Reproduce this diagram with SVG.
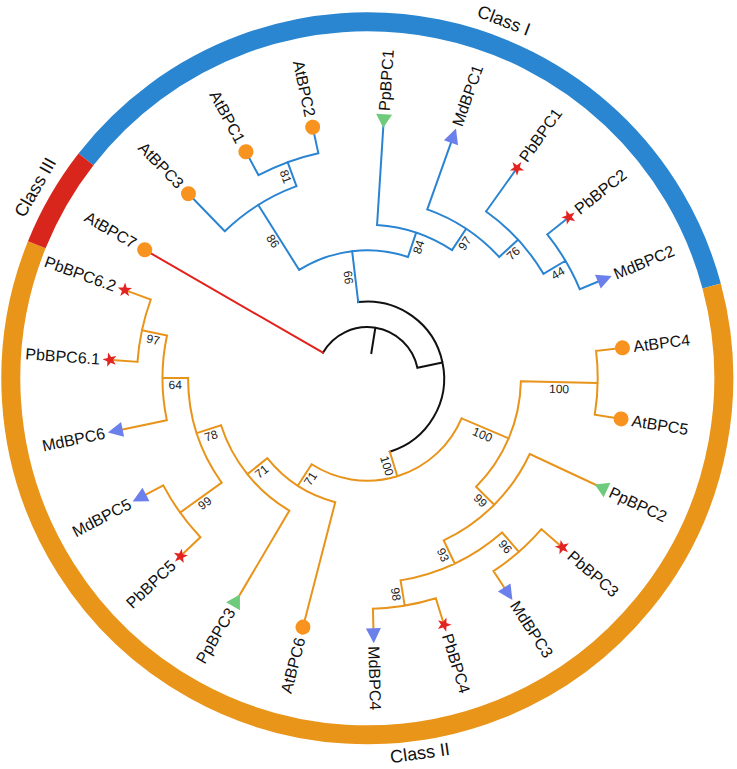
<svg xmlns="http://www.w3.org/2000/svg" width="737" height="769" viewBox="0 0 737 769">
<style>
.br{fill:none;stroke-width:2;stroke-linecap:square;stroke-linejoin:miter}
.k{stroke:#111}
.bl{stroke:#2a84d2}
.or{stroke:#e8941a}
.rd{stroke:#e3201b}
.ring{fill:none;stroke-width:19}
.lab{font-family:"Liberation Sans",Arial,sans-serif;font-size:16px;fill:#111;dominant-baseline:central}
.r{text-anchor:start}
.l{text-anchor:end}
.bs{font-family:"Liberation Sans",Arial,sans-serif;font-size:12px;fill:#222;text-anchor:middle;dominant-baseline:central}
.cls{font-family:"Liberation Sans",Arial,sans-serif;font-size:18px;fill:#111;text-anchor:middle;dominant-baseline:central}
</style>
<defs>
<circle id="at" r="7.5" fill="#f7931e"/>
<polygon id="pb" fill="#e3231f" points="0,-7.5 1.763,-2.427 7.133,-2.318 2.853,0.927 4.408,6.068 0,3 -4.408,6.068 -2.853,0.927 -7.133,-2.318 -1.763,-2.427"/>
<polygon id="md" fill="#6b80ea" points="0,-8 7.5,7 -7.5,7"/>
<polygon id="pp" fill="#6fcb7c" points="0,7 8,-6.5 -8,-6.5"/>
</defs>
<rect width="737" height="769" fill="#fff"/>
<g transform="translate(367.3,378.3)">
<g id="ring">
<path class="ring" stroke="#2a86d0" d="M-281.31,-219.00 A356.5,356.5 0 0 1 344.35,-92.27"/>
<path class="ring" stroke="#e8951a" d="M344.35,-92.27 A356.5,356.5 0 1 1 -330.54,-133.55"/>
<path class="ring" stroke="#d9261c" d="M-330.54,-133.55 A356.5,356.5 0 0 1 -281.31,-219.00"/>
</g>
<g id="class-labels">
<text class="cls" transform="rotate(20.9) translate(0,-383)">Class I</text>
<text class="cls" transform="rotate(172) translate(0,-378.5) rotate(180)">Class II</text>
<text class="cls" transform="rotate(-60.1) translate(0,-383)">Class III</text>
</g>
<g id="connectors">
<path class="br k" d="M4.03,-25.28 L8.05,-50.56 M-44.34,-25.6 A51.2,51.2 0 0 1 50.10,-10.56 M50.10,-10.56 L75.15,-15.84 M-9.09,-76.26 A76.8,76.8 0 0 1 22.52,73.43"/>
<path class="br rd" d="M-44.34,-25.6 L-221.70,-128.0"/>
<path class="br bl" d="M-9.09,-76.26 L-15.16,-127.10 M-68.13,-108.36 A128,128 0 0 1 40.72,-121.35
M-68.13,-108.36 L-109.01,-173.38 M-142.50,-147.10 A204.8,204.8 0 0 1 -70.82,-192.17 M-142.50,-147.10 L-178.12,-183.87
M-70.82,-192.17 L-79.67,-216.19 M-108.80,-203.09 A230.4,230.4 0 0 1 -48.96,-225.14 M-108.80,-203.09 L-120.89,-225.66 M-48.96,-225.14 L-54.41,-250.16
M40.72,-121.35 L48.86,-145.62 M9.75,-153.29 A153.6,153.6 0 0 1 84.71,-128.13 M9.75,-153.29 L16.25,-255.48
M84.71,-128.13 L98.83,-149.48 M59.97,-168.87 A179.2,179.2 0 0 1 131.89,-121.32 M59.97,-168.87 L85.67,-241.24
M131.89,-121.32 L150.73,-138.65 M118.78,-166.84 A204.8,204.8 0 0 1 176.14,-104.50 M118.78,-166.84 L148.48,-208.55
M176.14,-104.50 L198.15,-117.56 M179.96,-143.87 A230.4,230.4 0 0 1 212.51,-89.02 M179.96,-143.87 L199.96,-159.85 M212.51,-89.02 L236.12,-98.92"/>
<path class="br or" d="M22.52,73.43 L30.02,97.90 M94.26,40.01 A102.4,102.4 0 0 1 -55.62,85.98
M94.26,40.01 L141.39,60.02 M153.57,3.06 A153.6,153.6 0 0 1 108.80,108.42
M153.57,3.06 L230.35,4.58 M228.77,-27.36 A230.4,230.4 0 0 1 227.50,36.40 M228.77,-27.36 L254.19,-30.40 M227.50,36.40 L252.78,40.45
M108.80,108.42 L126.93,126.49 M162.41,75.73 A179.2,179.2 0 0 1 76.44,162.08 M162.41,75.73 L232.02,108.19
M76.44,162.08 L87.36,185.24 M134.77,154.21 A204.8,204.8 0 0 1 33.27,202.08
M134.77,154.21 L151.61,173.49 M174.15,150.85 A230.4,230.4 0 0 1 126.16,192.79 M174.15,150.85 L193.50,167.61 M126.16,192.79 L140.18,214.21
M33.27,202.08 L37.43,227.34 M68.51,219.98 A230.4,230.4 0 0 1 5.63,230.33 M68.51,219.98 L76.13,244.42 M5.63,230.33 L6.25,255.92
M-55.62,85.98 L-69.53,107.47 M-32.05,123.92 A128,128 0 0 1 -99.97,79.94 M-32.05,123.92 L-64.10,247.85
M-99.97,79.94 L-119.96,95.93 M-77.96,132.35 A153.6,153.6 0 0 1 -146.25,46.96 M-77.96,132.35 L-129.93,220.58
M-146.25,46.96 L-170.62,54.78 M-145.62,104.44 A179.2,179.2 0 0 1 -179.20,-0.31
M-145.62,104.44 L-187.22,134.28 M-166.85,158.89 A230.4,230.4 0 0 1 -203.99,107.10 M-166.85,158.89 L-185.39,176.54 M-203.99,107.10 L-226.66,119.00
M-179.20,-0.31 L-204.80,-0.36 M-200.47,41.88 A204.8,204.8 0 0 1 -200.29,-42.76 M-200.47,41.88 L-250.59,52.35
M-200.29,-42.76 L-225.32,-48.10 M-229.81,-16.47 A230.4,230.4 0 0 1 -216.50,-78.80 M-229.81,-16.47 L-255.34,-18.30 M-216.50,-78.80 L-240.56,-87.56"/>
</g>
<g id="bootstrap">
<text class="bs" transform="rotate(-6.8) translate(0,-102.4) rotate(90)" y="7">66</text>
<text class="bs" transform="rotate(-32.16) translate(0,-166.4) rotate(90)" y="7">86</text>
<text class="bs" transform="rotate(-20.23) translate(0,-217.6) rotate(90)" y="7">81</text>
<text class="bs" transform="rotate(18.55) translate(0,-140.8) rotate(-90)" y="7">84</text>
<text class="bs" transform="rotate(33.47) translate(0,-166.4) rotate(-90)" y="7">97</text>
<text class="bs" transform="rotate(47.39) translate(0,-192) rotate(-90)" y="7">76</text>
<text class="bs" transform="rotate(59.32) translate(0,-217.6) rotate(-90)" y="7">44</text>
<text class="bs" transform="rotate(162.95) translate(0,-89.6) rotate(-90)" y="7">100</text>
<text class="bs" transform="rotate(113) translate(0,-128) rotate(-90)" y="7">100</text>
<text class="bs" transform="rotate(91.14) translate(0,-192) rotate(-90)" y="7">100</text>
<text class="bs" transform="rotate(134.9) translate(0,-166.4) rotate(-90)" y="7">99</text>
<text class="bs" transform="rotate(154.75) translate(0,-192) rotate(-90)" y="7">93</text>
<text class="bs" transform="rotate(138.85) translate(0,-217.6) rotate(-90)" y="7">96</text>
<text class="bs" transform="rotate(170.65) translate(0,-217.6) rotate(-90)" y="7">98</text>
<text class="bs" transform="rotate(212.9) translate(0,-115.2) rotate(90)" y="7">71</text>
<text class="bs" transform="rotate(231.35) translate(0,-140.8) rotate(90)" y="7">71</text>
<text class="bs" transform="rotate(252.2) translate(0,-166.4) rotate(90)" y="7">78</text>
<text class="bs" transform="rotate(234.35) translate(0,-204.8) rotate(90)" y="7">99</text>
<text class="bs" transform="rotate(270.1) translate(0,-192) rotate(90)" y="7">64</text>
<text class="bs" transform="rotate(282.05) translate(0,-217.6) rotate(90)" y="7">97</text>
</g>
<g id="AtBPC7" transform="rotate(-60)"><use href="#at" y="-257"/><text class="lab l" transform="translate(0,-268) rotate(90)">AtBPC7</text></g>
<g id="AtBPC3" transform="rotate(-44.09)"><use href="#at" y="-257"/><text class="lab l" transform="translate(0,-268) rotate(90)">AtBPC3</text></g>
<g id="AtBPC1" transform="rotate(-28.18)"><use href="#at" y="-257"/><text class="lab l" transform="translate(0,-268) rotate(90)">AtBPC1</text></g>
<g id="AtBPC2" transform="rotate(-12.27)"><use href="#at" y="-257"/><text class="lab l" transform="translate(0,-268) rotate(90)">AtBPC2</text></g>
<g id="PpBPC1" transform="rotate(3.64)"><use href="#pp" y="-258"/><text class="lab r" transform="translate(0,-268) rotate(-90)">PpBPC1</text></g>
<g id="MdBPC1" transform="rotate(19.55)"><use href="#md" y="-257"/><text class="lab r" transform="translate(0,-268) rotate(-90)">MdBPC1</text></g>
<g id="PbBPC1" transform="rotate(35.45)"><use href="#pb" y="-258"/><text class="lab r" transform="translate(0,-268) rotate(-90)">PbBPC1</text></g>
<g id="PbBPC2" transform="rotate(51.36)"><use href="#pb" y="-258"/><text class="lab r" transform="translate(0,-268) rotate(-90)">PbBPC2</text></g>
<g id="MdBPC2" transform="rotate(67.27)"><use href="#md" y="-257"/><text class="lab r" transform="translate(0,-268) rotate(-90)">MdBPC2</text></g>
<g id="AtBPC4" transform="rotate(83.18)"><use href="#at" y="-257"/><text class="lab r" transform="translate(0,-268) rotate(-90)">AtBPC4</text></g>
<g id="AtBPC5" transform="rotate(99.09)"><use href="#at" y="-257"/><text class="lab r" transform="translate(0,-268) rotate(-90)">AtBPC5</text></g>
<g id="PpBPC2" transform="rotate(115)"><use href="#pp" y="-258"/><text class="lab r" transform="translate(0,-268) rotate(-90)">PpBPC2</text></g>
<g id="PbBPC3" transform="rotate(130.9)"><use href="#pb" y="-258"/><text class="lab r" transform="translate(0,-268) rotate(-90)">PbBPC3</text></g>
<g id="MdBPC3" transform="rotate(146.8)"><use href="#md" y="-257"/><text class="lab r" transform="translate(0,-268) rotate(-90)">MdBPC3</text></g>
<g id="PbBPC4" transform="rotate(162.7)"><use href="#pb" y="-258"/><text class="lab r" transform="translate(0,-268) rotate(-90)">PbBPC4</text></g>
<g id="MdBPC4" transform="rotate(178.6)"><use href="#md" y="-257"/><text class="lab r" transform="translate(0,-268) rotate(-90)">MdBPC4</text></g>
<g id="AtBPC6" transform="rotate(194.5)"><use href="#at" y="-257"/><text class="lab l" transform="translate(0,-268) rotate(90)">AtBPC6</text></g>
<g id="PpBPC3" transform="rotate(210.5)"><use href="#pp" y="-258"/><text class="lab l" transform="translate(0,-268) rotate(90)">PpBPC3</text></g>
<g id="PbBPC5" transform="rotate(226.4)"><use href="#pb" y="-258"/><text class="lab l" transform="translate(0,-268) rotate(90)">PbBPC5</text></g>
<g id="MdBPC5" transform="rotate(242.3)"><use href="#md" y="-257"/><text class="lab l" transform="translate(0,-268) rotate(90)">MdBPC5</text></g>
<g id="MdBPC6" transform="rotate(258.2)"><use href="#md" y="-257"/><text class="lab l" transform="translate(0,-268) rotate(90)">MdBPC6</text></g>
<g id="PbBPC6.1" transform="rotate(274.1)"><use href="#pb" y="-258"/><text class="lab l" transform="translate(0,-268) rotate(90)">PbBPC6.1</text></g>
<g id="PbBPC6.2" transform="rotate(290)"><use href="#pb" y="-258"/><text class="lab l" transform="translate(0,-268) rotate(90)">PbBPC6.2</text></g>
</g>
</svg>
